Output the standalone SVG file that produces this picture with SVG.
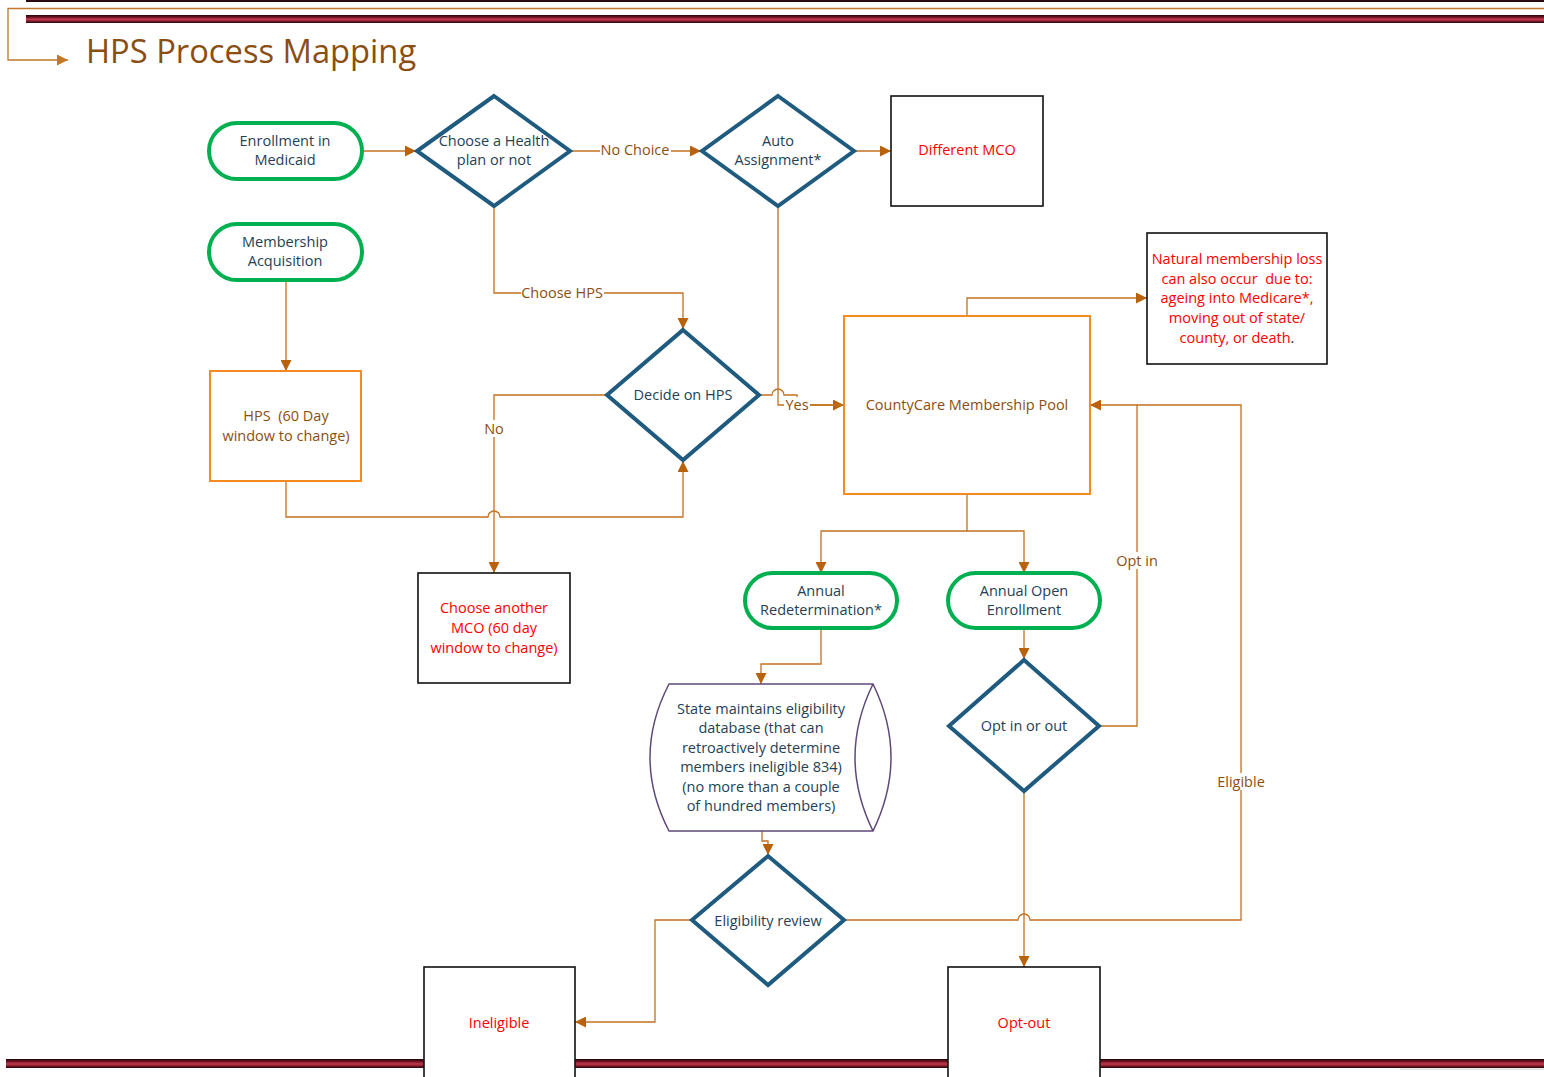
<svg xmlns="http://www.w3.org/2000/svg" width="1544" height="1077" viewBox="0 0 1544 1077">
<defs>
<linearGradient id="band" x1="0" y1="0" x2="0" y2="1">
<stop offset="0" stop-color="#1a0508"/>
<stop offset="0.3" stop-color="#7a1526"/>
<stop offset="0.55" stop-color="#c23a4e"/>
<stop offset="0.8" stop-color="#7a1526"/>
<stop offset="1" stop-color="#1a0508"/>
</linearGradient>
<marker id="arr" markerUnits="userSpaceOnUse" viewBox="0 0 10 10" refX="10" refY="5" markerWidth="11" markerHeight="11" orient="auto">
<path d="M0,0 L10,5 L0,10 z" fill="#b8620c"/>
</marker>
<marker id="arrh" markerUnits="userSpaceOnUse" viewBox="0 0 10 10" refX="10" refY="5" markerWidth="11" markerHeight="11" orient="auto">
<path d="M0,0 L10,5 L0,10 z" fill="#c0782a"/>
</marker>
</defs>
<style>
.t{font-family:"Open Sans","Liberation Sans",sans-serif;font-size:14.5px;fill:#243f56;text-anchor:middle;white-space:pre}
.br{fill:#8b4e12}
.rd{fill:#ff0000}
.lbl{font-family:"Open Sans","Liberation Sans",sans-serif;font-size:14.5px;fill:#8b4e12;text-anchor:middle}
.stad{fill:#ffffff;stroke:#00b050;stroke-width:4}
.dia{fill:#ffffff;stroke:#1f5b7f;stroke-width:4;stroke-linejoin:miter}
.box{fill:#ffffff;stroke:#111111;stroke-width:1.6}
.obox{fill:#ffffff;stroke:#f58a23;stroke-width:2}
.c{fill:none;stroke:#c4711f;stroke-width:1.3}
.bg{fill:#ffffff}
</style>
<rect width="1544" height="1077" fill="#ffffff"/>
<!-- header -->
<g id="header">
<rect x="26" y="0" width="1518" height="2" fill="#2a0a0f"/>
<rect x="26" y="15" width="1518" height="8" fill="url(#band)"/>
<path d="M1544,8.5 H8 V60 H68" fill="none" stroke="#c0782a" stroke-width="1.3" marker-end="url(#arrh)"/>
<text x="86" y="63" style="font-family:'Open Sans','Liberation Sans',sans-serif;font-size:32.7px;fill:#8b4e12">HPS Process Mapping</text>
</g>
<g id="footer">
<rect x="6" y="1059" width="1538" height="9" fill="url(#band)"/>
<rect x="1400" y="1068.5" width="144" height="1.2" fill="#d8d8d8"/>
</g>
<!-- connectors -->
<g id="connectors">
<path class="c" d="M363,151 H416" marker-end="url(#arr)"/>
<path class="c" d="M571,151 H701" marker-end="url(#arr)"/>
<path class="c" d="M855,151 H891" marker-end="url(#arr)"/>
<path class="c" d="M494,206 V293 H683 V329" marker-end="url(#arr)"/>
<path class="c" d="M778,206 V405 H844" marker-end="url(#arr)"/>
<path class="c" d="M760,395 H772 A6,6 0 0 1 784,395 H797 V405 H844"/>
<path class="c" d="M286,281 V371" marker-end="url(#arr)"/>
<path class="c" d="M286,481 V517 H488 A6,6 0 0 1 500,517 H683 V461" marker-end="url(#arr)"/>
<path class="c" d="M606,395 H494 V573" marker-end="url(#arr)"/>
<path class="c" d="M967,316 V298 H1147" marker-end="url(#arr)"/>
<path class="c" d="M967,494 V531 H821 V573" marker-end="url(#arr)"/>
<path class="c" d="M967,531 H1024 V573" marker-end="url(#arr)"/>
<path class="c" d="M821,628 V664 H761 V684" marker-end="url(#arr)"/>
<path class="c" d="M1024,628 V659" marker-end="url(#arr)"/>
<path class="c" d="M1100,726 H1137 V405 H1090" marker-end="url(#arr)"/>
<path class="c" d="M1024,791 V967" marker-end="url(#arr)"/>
<path class="c" d="M762,831 V841 H768 V855" marker-end="url(#arr)"/>
<path class="c" d="M691,920 H655 V1022 H575" marker-end="url(#arr)"/>
<path class="c" d="M845,920 H1018 A6,6 0 0 1 1030,920 H1241 V405 H1137"/>
<rect class="bg" x="600" y="142" width="71" height="17"/>
<text class="lbl" x="635" y="155">No Choice</text>
<rect class="bg" x="521" y="285" width="83" height="17"/>
<text class="lbl" x="562" y="298">Choose HPS</text>
<rect class="bg" x="784" y="397" width="26" height="17"/>
<text class="lbl" x="797" y="410">Yes</text>
<rect class="bg" x="482" y="420" width="24" height="17"/>
<text class="lbl" x="494" y="434">No</text>
<rect class="bg" x="1115" y="552" width="45" height="17"/>
<text class="lbl" x="1137" y="566">Opt in</text>
<rect class="bg" x="1215" y="773" width="53" height="17"/>
<text class="lbl" x="1241" y="787">Eligible</text>
</g>
<!-- nodes -->
<g id="enrollment">
<rect class="stad" x="209" y="123" width="153" height="56" rx="28"/>
<text class="t" x="285" y="146">Enrollment in</text>
<text class="t" x="285" y="165">Medicaid</text>
</g>
<g id="membership">
<rect class="stad" x="209" y="224" width="153" height="56" rx="28"/>
<text class="t" x="285" y="247">Membership</text>
<text class="t" x="285" y="266">Acquisition</text>
</g>
<g id="choose-plan">
<polygon class="dia" points="494,96 570,151 494,206 417,151"/>
<text class="t" x="494" y="146">Choose a Health</text>
<text class="t" x="494" y="165">plan or not</text>
</g>
<g id="auto-assign">
<polygon class="dia" points="778,96 854,151 778,206 702,151"/>
<text class="t" x="778" y="146">Auto</text>
<text class="t" x="778" y="165">Assignment*</text>
</g>
<g id="different-mco">
<rect class="box" x="891" y="96" width="152" height="110"/>
<text class="t rd" x="967" y="155">Different MCO</text>
</g>
<g id="natural-loss">
<rect class="box" x="1147" y="233" width="180" height="131"/>
<text class="t rd" x="1237" y="264">Natural membership loss</text>
<text class="t rd" x="1237" y="284">can also occur  due to:</text>
<text class="t rd" x="1237" y="303">ageing into Medicare*,</text>
<text class="t rd" x="1237" y="323">moving out of state/</text>
<text class="t rd" x="1237" y="343">county, or death<tspan fill="#222222">.</tspan></text>
</g>
<g id="decide-hps">
<polygon class="dia" points="683,330 759,395 683,460 607,395"/>
<text class="t" x="683" y="400">Decide on HPS</text>
</g>
<g id="countycare-pool">
<rect class="obox" x="844" y="316" width="246" height="178"/>
<text class="t br" x="967" y="410">CountyCare Membership Pool</text>
</g>
<g id="hps-window">
<rect class="obox" x="210" y="371" width="151" height="110"/>
<text class="t br" x="286" y="421">HPS  (60 Day</text>
<text class="t br" x="286" y="441">window to change)</text>
</g>
<g id="choose-another">
<rect class="box" x="418" y="573" width="152" height="110"/>
<text class="t rd" x="494" y="613">Choose another</text>
<text class="t rd" x="494" y="633">MCO (60 day</text>
<text class="t rd" x="494" y="653">window to change)</text>
</g>
<g id="annual-redetermination">
<rect class="stad" x="745" y="573" width="152" height="55" rx="27.5"/>
<text class="t" x="821" y="596">Annual</text>
<text class="t" x="821" y="615">Redetermination*</text>
</g>
<g id="annual-open">
<rect class="stad" x="948" y="573" width="152" height="55" rx="27.5"/>
<text class="t" x="1024" y="596">Annual Open</text>
<text class="t" x="1024" y="615">Enrollment</text>
</g>
<g id="opt-in-out">
<polygon class="dia" points="1024,660 1099,726 1024,791 949,726"/>
<text class="t" x="1024" y="731">Opt in or out</text>
</g>
<g id="state-database">
<path d="M669,684 H873 Q909,757.5 873,831 H669 Q631,757.5 669,684 Z" fill="#ffffff" stroke="#5f497a" stroke-width="1.5"/>
<path d="M873,684 Q837,757.5 873,831" fill="none" stroke="#5f497a" stroke-width="1.5"/>
<text class="t" x="761" y="714">State maintains eligibility</text>
<text class="t" x="761" y="733">database (that can</text>
<text class="t" x="761" y="753">retroactively determine</text>
<text class="t" x="761" y="772">members ineligible 834)</text>
<text class="t" x="761" y="792">(no more than a couple</text>
<text class="t" x="761" y="811">of hundred members)</text>
</g>
<g id="eligibility-review">
<polygon class="dia" points="768,856 844,920 768,985 692,920"/>
<text class="t" x="768" y="926">Eligibility review</text>
</g>
<g id="ineligible">
<rect class="box" x="424" y="967" width="151" height="120"/>
<text class="t rd" x="499" y="1028">Ineligible</text>
</g>
<g id="opt-out">
<rect class="box" x="948" y="967" width="152" height="120"/>
<text class="t rd" x="1024" y="1028">Opt-out</text>
</g>
</svg>
